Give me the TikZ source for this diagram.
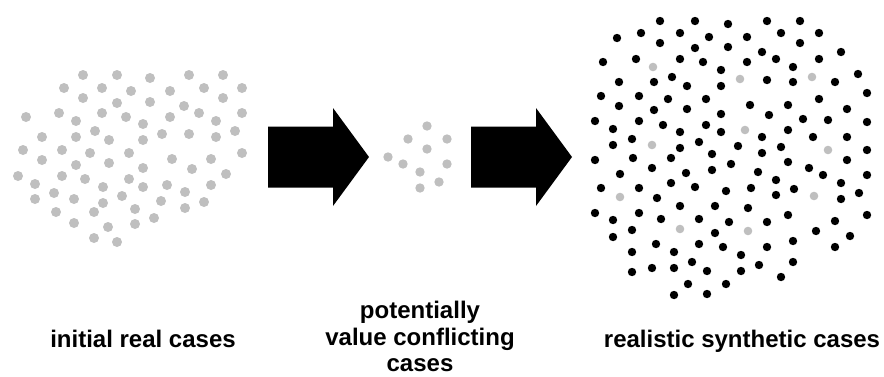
\documentclass[tikz,border=0pt]{standalone}
\usepackage{fontspec}
\setmainfont{Liberation Sans}
\usepackage{tikz}
\usetikzlibrary{positioning}
\definecolor{dotgray}{RGB}{191,191,191}
\tikzset{
  caption/.style={font=\bfseries\fontsize{24}{26.5}\selectfont,align=center,inner sep=0pt},
  realdot/.style={fill=dotgray},
  synthdot/.style={fill=black}
}

\begin{document}
\begin{tikzpicture}[x=1pt,y=-1pt]
    \useasboundingbox (0,0) rectangle (884,376);
    % initial real cases
    \foreach \x/\y in {83/75,117/75,150/78,189/75,223/75,64/88,102/88,131/91,170/91,204/88,242/88,
        83/98,117/103,150/102,184/106,223/98,26/117,59/113,76/121,102/113,126/117,143/124,170/117,
        199/113,216/121,242/113,42/137,76/137,95/131,109/140,143/140,162/134,189/134,216/137,235/131,
        23/150,62/150,42/160,90/153,129/153,76/165,109/163,172/159,211/159,242/153,143/168,192/169,
        18/176,62/176,35/184,85/179,129/179,103/187,143/187,167/185,211/185,226/174,35/199,54/193,
        74/199,103/203,122/196,161/201,185/192,204/202,135/209,185/208,56/212,94/212,74/223,108/227,
        135/224,154/218,94/238,117/242} {
        \fill[realdot] (\x,\y) circle (5);
    }
    % conflicting cases
    \foreach \x/\y in {427/126,408/139,447/139,427/149,388/157,403/164,447/164,420/172,439/182,420/188} {
        \fill[realdot] (\x,\y) circle (4.7);
    }
    % block arrows
    \foreach \s in {268,471} {
        \fill[black] (\s,126.5) -- ++(65,0) -- ++(0,-18.5) -- ++(36,49) -- ++(-36,49)
            -- ++(0,-18.5) -- ++(-65,0) -- cycle;
    }
    % realistic synthetic cases
    \foreach \x/\y in {660/21,695/21,728/24,767/21,800/21,617/38,641/33,680/33,709/37,747/37,781/33,
        819/33,660/43,695/48,728/47,762/52,800/43,841/52,603/62,636/59,680/59,703/62,721/70,747/62,
        776/59,793/67,819/59,858/74,619/82,654/82,672/77,687/86,721/86,767/80,793/82,835/82,867/93,
        601/96,639/96,668/99,706/99,619/106,654/110,687/109,750/105,788/105,819/99,847/109,721/114,
        769/115,595/121,639/121,613/129,663/125,706/125,803/119,828/120,867/122,680/132,721/132,
        788/130,613/145,632/139,699/142,738/146,762/137,813/137,847/137,680/148,781/147,867/150,
        595/160,633/158,671/158,712/154,762/153,652/168,731/164,788/162,847/160,809/168,620/174,
        686/173,712/170,758/172,823/175,867/175,776/180,601/188,639/188,671/183,695/187,726/191,
        751/188,776/195,794/189,841/183,859/193,657/198,841/199,680/206,715/206,748/208,595/213,
        639/213,788/215,867/215,613/220,661/219,699/219,729/222,767/222,835/221,632/230,715/233,
        816/231,613/237,850/236,656/244,699/244,723/247,767/247,793/241,835/247,632/252,674/252,
        741/255,692/262,793/262,632/272,652/268,674/268,707/271,741/271,759/265,781/277,688/284,
        726/284,674/295,707/294} {
        \fill[synthdot] (\x,\y) circle (4.2);
    }
    \foreach \x/\y in {653/67,740/79,812/77,745/130,652/145,828/150,620/197,814/196,680/229,748/231} {
        \fill[realdot] (\x,\y) circle (4.3);
    }
    % captions
    \node[caption,anchor=base] (initial) at (143,347) {initial real cases};
    \node[caption,anchor=north] (conflict) at (420,301) {potentially\\value conflicting\\cases};
    \node[caption,anchor=base] (synthetic) at (742,347) {realistic synthetic cases};
\end{tikzpicture}
\end{document}
